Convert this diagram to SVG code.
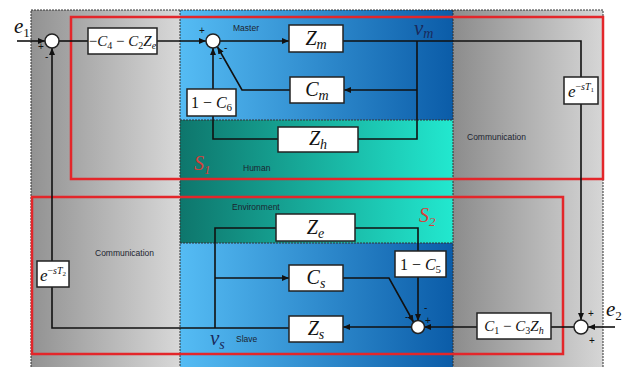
<svg xmlns="http://www.w3.org/2000/svg" width="623" height="367" viewBox="0 0 623 367">
<defs>
<linearGradient id="gL" gradientUnits="userSpaceOnUse" x1="31" y1="0" x2="180" y2="0"><stop offset="0" stop-color="#929292"/><stop offset="1" stop-color="#d8d8d8"/></linearGradient>
<linearGradient id="gR" gradientUnits="userSpaceOnUse" x1="453" y1="0" x2="603" y2="0"><stop offset="0" stop-color="#8c8c8c"/><stop offset="1" stop-color="#d6d6d6"/></linearGradient>
<linearGradient id="gB" gradientUnits="userSpaceOnUse" x1="180" y1="0" x2="453" y2="0"><stop offset="0" stop-color="#55bcf4"/><stop offset="1" stop-color="#0b5ca8"/></linearGradient>
<linearGradient id="gT" gradientUnits="userSpaceOnUse" x1="180" y1="0" x2="453" y2="0"><stop offset="0" stop-color="#0e766c"/><stop offset="1" stop-color="#22e8cf"/></linearGradient>
<marker id="ar" markerUnits="userSpaceOnUse" markerWidth="8" markerHeight="6" refX="7" refY="3" orient="auto"><path d="M0,0 L7,3 L0,6 z" fill="#111"/></marker>
</defs>
<style>
.ln{fill:none;stroke:#111;stroke-width:1.6}
.blk{fill:#fff;stroke:#222;stroke-width:1.5}
.sum{fill:#fff;stroke:#222;stroke-width:1.5}
.dot{fill:none;stroke:#333;stroke-width:1;stroke-dasharray:2 1}
.red{fill:none;stroke:#e3262a;stroke-width:2.5}
.lab{font-family:"Liberation Sans",Arial,sans-serif;font-size:8.5px;fill:#1c2430}
.sg{font-family:"Liberation Sans",Arial,sans-serif;font-size:10px;fill:#111}
.m{font-family:"Liberation Serif","Times New Roman",serif;fill:#111}
.i{font-style:italic}
.nv{fill:#1a2a5c}
.sl{font-family:"Liberation Serif","Times New Roman",serif;font-style:italic;fill:#d8403a}
</style>
<rect x="0" y="0" width="623" height="367" fill="#fff"/>
<g id="panels">
<rect x="31" y="10" width="149" height="357" fill="url(#gL)"/>
<rect x="453" y="10" width="150" height="357" fill="url(#gR)"/>
<rect x="180" y="10" width="273" height="110" fill="url(#gB)"/>
<rect x="180" y="120" width="273" height="123" fill="url(#gT)"/>
<rect x="180" y="243" width="273" height="124" fill="url(#gB)"/>
<path class="dot" d="M31,367 V10 H603 V367 M180,10 V367 M453,10 V367 M180,120 H453 M180,243 H453"/>
</g>
<g id="regions">
<rect class="red" x="71" y="17" width="532" height="162"/>
<rect class="red" x="32" y="197" width="531" height="157"/>
<text class="sl" x="194" y="170" font-size="20">S<tspan font-size="13" dy="4">1</tspan></text>
<text class="sl" x="419" y="222" font-size="20">S<tspan font-size="13" dy="4">2</tspan></text>
</g>
<g id="labels">
<text class="lab" x="233" y="31">Master</text>
<text class="lab" x="243" y="171">Human</text>
<text class="lab" x="232" y="210">Environment</text>
<text class="lab" x="236" y="342">Slave</text>
<text class="lab" x="467" y="140">Communication</text>
<text class="lab" x="95" y="256">Communication</text>
<text class="m i" x="14" y="33" font-size="21">e<tspan font-size="13" font-style="normal" dy="4">1</tspan></text>
<text class="m i" x="606" y="316" font-size="21">e<tspan font-size="13" font-style="normal" dy="4">2</tspan></text>
<text class="m i nv" x="414" y="35" font-size="21">v<tspan font-size="14" dy="3">m</tspan></text>
<text class="m i nv" x="210" y="345" font-size="21">v<tspan font-size="14" dy="4">s</tspan></text>
</g>
<g id="connectors">
<path class="ln" d="M17,41 H45" marker-end="url(#ar)"/>
<path class="ln" d="M59,41 H88"/>
<path class="ln" d="M157,41 H206" marker-end="url(#ar)"/>
<path class="ln" d="M220,41 H289" marker-end="url(#ar)"/>
<path class="ln" d="M343,41 H581 V77"/>
<path class="ln" d="M581,104 V320" marker-end="url(#ar)"/>
<path class="ln" d="M417,41 V139 H358"/>
<path class="ln" d="M417,90 H344" marker-end="url(#ar)"/>
<path class="ln" d="M290,90 H242 L217.5,47" marker-end="url(#ar)"/>
<path class="ln" d="M278,139 H213 V116"/>
<path class="ln" d="M213,89 V48" marker-end="url(#ar)"/>
<path class="ln" d="M615,327 H588" marker-end="url(#ar)"/>
<path class="ln" d="M574,327 H551"/>
<path class="ln" d="M477,327 H424" marker-end="url(#ar)"/>
<path class="ln" d="M412,327 H343" marker-end="url(#ar)"/>
<path class="ln" d="M289,328 H52 V287"/>
<path class="ln" d="M52,261 V48" marker-end="url(#ar)"/>
<path class="ln" d="M215,328 V228 H276"/>
<path class="ln" d="M215,278 H289" marker-end="url(#ar)"/>
<path class="ln" d="M355,228 H418 V251"/>
<path class="ln" d="M418,277 V321" marker-end="url(#ar)"/>
<path class="ln" d="M343,278 H389 L413.5,322" marker-end="url(#ar)"/>
</g>
<g id="sum1"><circle class="sum" cx="52" cy="41" r="7"/><text class="sg" x="38" y="50">+</text><text class="sg" x="45" y="60">-</text></g>
<g id="sum2"><circle class="sum" cx="213" cy="41" r="7"/><text class="sg" x="199" y="34">+</text><text class="sg" x="224" y="51">-</text><text class="sg" x="219" y="61">-</text></g>
<g id="sum3"><circle class="sum" cx="581" cy="327" r="7"/><text class="sg" x="588" y="317">+</text><text class="sg" x="589" y="344">+</text></g>
<g id="sum4"><circle class="sum" cx="418" cy="327" r="6.5"/><text class="sg" x="424" y="311">-</text><text class="sg" x="405" y="320">-</text><text class="sg" x="425" y="324">+</text></g>
<g id="b_c4c2ze"><rect class="blk" x="88" y="28" width="69" height="26"/><text class="m" x="122.5" y="46" font-size="15" text-anchor="middle">−<tspan class="i">C</tspan><tspan font-size="10" dy="3">4</tspan><tspan dy="-3"> − </tspan><tspan class="i">C</tspan><tspan font-size="10" dy="3">2</tspan><tspan class="i" dy="-3">Z</tspan><tspan class="i" font-size="10" dy="3">e</tspan></text></g>
<g id="b_zm"><rect class="blk" x="289" y="25" width="54" height="27"/><text class="m i" x="316" y="45" font-size="20" text-anchor="middle">Z<tspan font-size="14" dy="4">m</tspan></text></g>
<g id="b_cm"><rect class="blk" x="290" y="77" width="54" height="26"/><text class="m i" x="317" y="96" font-size="20" text-anchor="middle">C<tspan font-size="14" dy="4">m</tspan></text></g>
<g id="b_1c6"><rect class="blk" x="187" y="89" width="49" height="27"/><text class="m" x="211.5" y="108" font-size="16" text-anchor="middle">1 − <tspan class="i">C</tspan><tspan font-size="11" dy="3">6</tspan></text></g>
<g id="b_zh"><rect class="blk" x="278" y="127" width="80" height="25"/><text class="m i" x="318" y="145" font-size="20" text-anchor="middle">Z<tspan font-size="14" dy="4">h</tspan></text></g>
<g id="b_et1"><rect class="blk" x="564" y="77" width="34" height="27"/><text class="m" x="581" y="97" text-anchor="middle"><tspan class="i" font-size="17">e</tspan><tspan font-size="10" dy="-7">−<tspan class="i">sT</tspan></tspan><tspan font-size="7" dy="2">1</tspan></text></g>
<g id="b_et2"><rect class="blk" x="37" y="261" width="32" height="26"/><text class="m" x="53" y="281" text-anchor="middle"><tspan class="i" font-size="17">e</tspan><tspan font-size="10" dy="-7">−<tspan class="i">sT</tspan></tspan><tspan font-size="7" dy="2">2</tspan></text></g>
<g id="b_ze"><rect class="blk" x="276" y="214" width="79" height="27"/><text class="m i" x="315.5" y="234" font-size="20" text-anchor="middle">Z<tspan font-size="14" dy="4">e</tspan></text></g>
<g id="b_1c5"><rect class="blk" x="395" y="251" width="51" height="26"/><text class="m" x="420.5" y="270" font-size="16" text-anchor="middle">1 − <tspan class="i">C</tspan><tspan font-size="11" dy="3">5</tspan></text></g>
<g id="b_cs"><rect class="blk" x="289" y="265" width="54" height="26"/><text class="m i" x="316" y="284" font-size="20" text-anchor="middle">C<tspan font-size="14" dy="4">s</tspan></text></g>
<g id="b_zs"><rect class="blk" x="289" y="316" width="54" height="26"/><text class="m i" x="316" y="335" font-size="20" text-anchor="middle">Z<tspan font-size="14" dy="4">s</tspan></text></g>
<g id="b_c1c3zh"><rect class="blk" x="477" y="313" width="74" height="26"/><text class="m" x="514" y="331" font-size="15" text-anchor="middle"><tspan class="i">C</tspan><tspan font-size="10" dy="3">1</tspan><tspan dy="-3"> − </tspan><tspan class="i">C</tspan><tspan font-size="10" dy="3">3</tspan><tspan class="i" dy="-3">Z</tspan><tspan class="i" font-size="10" dy="3">h</tspan></text></g>
</svg>
